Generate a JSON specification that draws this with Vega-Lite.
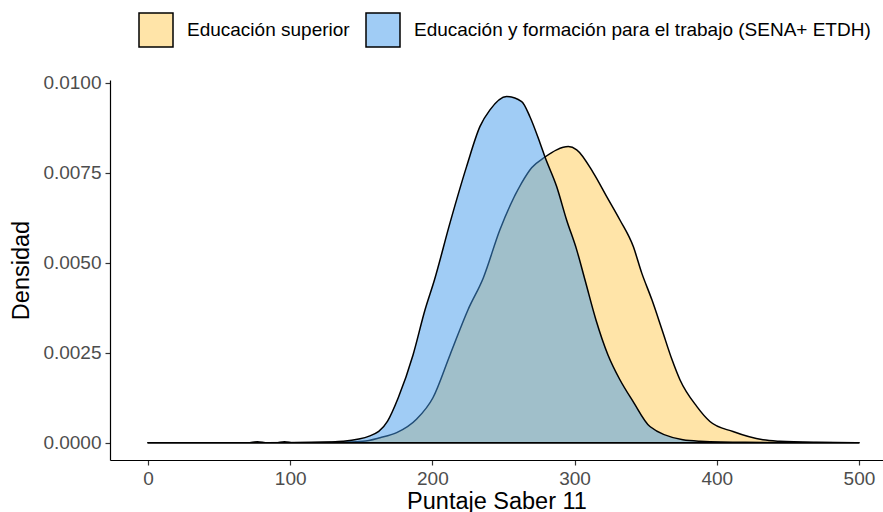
{
  "$schema": "https://vega.github.io/schema/vega-lite/v6.json",
  "width": 773,
  "height": 380,
  "autosize": {"type": "none"},
  "padding": {"left": 110, "top": 80, "right": 0, "bottom": 52},
  "background": "white",
  "config": {
    "view": {"stroke": null},
    "font": "Liberation Sans"
  },
  "data": {
    "values": [
      {"g": "Educación superior", "x": 0, "y": 0},
      {"g": "Educación superior", "x": 70, "y": 0},
      {"g": "Educación superior", "x": 77, "y": 0.00003},
      {"g": "Educación superior", "x": 84, "y": 0},
      {"g": "Educación superior", "x": 130, "y": 0.00001},
      {"g": "Educación superior", "x": 151.2, "y": 0.00004},
      {"g": "Educación superior", "x": 163.2, "y": 0.00014},
      {"g": "Educación superior", "x": 174.9, "y": 0.00028},
      {"g": "Educación superior", "x": 189.0, "y": 0.00066},
      {"g": "Educación superior", "x": 200.4, "y": 0.00125},
      {"g": "Educación superior", "x": 212.4, "y": 0.00244},
      {"g": "Educación superior", "x": 225.0, "y": 0.00369},
      {"g": "Educación superior", "x": 235.8, "y": 0.00458},
      {"g": "Educación superior", "x": 247.5, "y": 0.00592},
      {"g": "Educación superior", "x": 262.8, "y": 0.00722},
      {"g": "Educación superior", "x": 269.8, "y": 0.00764},
      {"g": "Educación superior", "x": 279.2, "y": 0.00794},
      {"g": "Educación superior", "x": 287.4, "y": 0.00814},
      {"g": "Educación superior", "x": 295.6, "y": 0.00823},
      {"g": "Educación superior", "x": 301.5, "y": 0.00814},
      {"g": "Educación superior", "x": 313.2, "y": 0.00750},
      {"g": "Educación superior", "x": 322.6, "y": 0.00684},
      {"g": "Educación superior", "x": 331.9, "y": 0.00619},
      {"g": "Educación superior", "x": 341.3, "y": 0.00545},
      {"g": "Educación superior", "x": 347.2, "y": 0.00472},
      {"g": "Educación superior", "x": 354.4, "y": 0.00397},
      {"g": "Educación superior", "x": 361.5, "y": 0.00314},
      {"g": "Educación superior", "x": 368.5, "y": 0.00231},
      {"g": "Educación superior", "x": 374.1, "y": 0.00175},
      {"g": "Educación superior", "x": 385.9, "y": 0.00101},
      {"g": "Educación superior", "x": 395.2, "y": 0.00059},
      {"g": "Educación superior", "x": 411.4, "y": 0.00031},
      {"g": "Educación superior", "x": 432.5, "y": 0.00008},
      {"g": "Educación superior", "x": 444.4, "y": 0.00004},
      {"g": "Educación superior", "x": 470, "y": 0.00001},
      {"g": "Educación superior", "x": 500, "y": 0},
      {"g": "Educación y formación para el trabajo (SENA+ ETDH)", "x": 0, "y": 0},
      {"g": "Educación y formación para el trabajo (SENA+ ETDH)", "x": 90, "y": 0},
      {"g": "Educación y formación para el trabajo (SENA+ ETDH)", "x": 96, "y": 0.00003},
      {"g": "Educación y formación para el trabajo (SENA+ ETDH)", "x": 102, "y": 0},
      {"g": "Educación y formación para el trabajo (SENA+ ETDH)", "x": 128, "y": 0.00002},
      {"g": "Educación y formación para el trabajo (SENA+ ETDH)", "x": 137.1, "y": 0.00004},
      {"g": "Educación y formación para el trabajo (SENA+ ETDH)", "x": 156.1, "y": 0.00019},
      {"g": "Educación y formación para el trabajo (SENA+ ETDH)", "x": 168.5, "y": 0.00060},
      {"g": "Educación y formación para el trabajo (SENA+ ETDH)", "x": 176.0, "y": 0.00125},
      {"g": "Educación y formación para el trabajo (SENA+ ETDH)", "x": 186.4, "y": 0.00244},
      {"g": "Educación y formación para el trabajo (SENA+ ETDH)", "x": 194.8, "y": 0.00369},
      {"g": "Educación y formación para el trabajo (SENA+ ETDH)", "x": 201.5, "y": 0.00453},
      {"g": "Educación y formación para el trabajo (SENA+ ETDH)", "x": 212.4, "y": 0.00611},
      {"g": "Educación y formación para el trabajo (SENA+ ETDH)", "x": 224.1, "y": 0.00768},
      {"g": "Educación y formación para el trabajo (SENA+ ETDH)", "x": 233.5, "y": 0.00879},
      {"g": "Educación y formación para el trabajo (SENA+ ETDH)", "x": 240.5, "y": 0.00925},
      {"g": "Educación y formación para el trabajo (SENA+ ETDH)", "x": 252.2, "y": 0.00962},
      {"g": "Educación y formación para el trabajo (SENA+ ETDH)", "x": 262.8, "y": 0.00948},
      {"g": "Educación y formación para el trabajo (SENA+ ETDH)", "x": 268.6, "y": 0.00906},
      {"g": "Educación y formación para el trabajo (SENA+ ETDH)", "x": 275.7, "y": 0.00833},
      {"g": "Educación y formación para el trabajo (SENA+ ETDH)", "x": 279.2, "y": 0.00794},
      {"g": "Educación y formación para el trabajo (SENA+ ETDH)", "x": 287.4, "y": 0.00712},
      {"g": "Educación y formación para el trabajo (SENA+ ETDH)", "x": 294.4, "y": 0.00619},
      {"g": "Educación y formación para el trabajo (SENA+ ETDH)", "x": 301.5, "y": 0.00536},
      {"g": "Educación y formación para el trabajo (SENA+ ETDH)", "x": 307.3, "y": 0.00453},
      {"g": "Educación y formación para el trabajo (SENA+ ETDH)", "x": 315.0, "y": 0.00342},
      {"g": "Educación y formación para el trabajo (SENA+ ETDH)", "x": 323.5, "y": 0.00244},
      {"g": "Educación y formación para el trabajo (SENA+ ETDH)", "x": 331.9, "y": 0.00175},
      {"g": "Educación y formación para el trabajo (SENA+ ETDH)", "x": 341.1, "y": 0.00115},
      {"g": "Educación y formación para el trabajo (SENA+ ETDH)", "x": 353.0, "y": 0.00045},
      {"g": "Educación y formación para el trabajo (SENA+ ETDH)", "x": 376.2, "y": 0.00008},
      {"g": "Educación y formación para el trabajo (SENA+ ETDH)", "x": 388.2, "y": 0.00004},
      {"g": "Educación y formación para el trabajo (SENA+ ETDH)", "x": 420, "y": 0.00001},
      {"g": "Educación y formación para el trabajo (SENA+ ETDH)", "x": 500, "y": 0}
    ]
  },
  "mark": {
    "type": "area",
    "interpolate": "monotone",
    "stroke": "black",
    "strokeWidth": 1.5,
    "strokeJoin": "round"
  },
  "encoding": {
    "x": {
      "field": "x",
      "type": "quantitative",
      "scale": {"domain": [-26.7, 516.9], "nice": false, "zero": false},
      "axis": {
        "title": "Puntaje Saber 11",
        "values": [0, 100, 200, 300, 400, 500],
        "grid": false,
        "domainColor": "black",
        "domainWidth": 1.2,
        "tickColor": "#333333",
        "tickSize": 5,
        "tickWidth": 1.2,
        "labelColor": "#4d4d4d",
        "labelFontSize": 19,
        "labelFont": "Liberation Sans",
        "labelPadding": 4,
        "titleFont": "Liberation Sans",
        "titleFontSize": 23.5,
        "titleFontWeight": "normal",
        "titleColor": "black",
        "titlePadding": 1
      }
    },
    "y": {
      "field": "y",
      "type": "quantitative",
      "stack": null,
      "scale": {"domain": [-0.00048, 0.01008], "nice": false, "zero": false},
      "axis": {
        "title": "Densidad",
        "values": [0, 0.0025, 0.005, 0.0075, 0.01],
        "format": ".4f",
        "grid": false,
        "domainColor": "black",
        "domainWidth": 1.2,
        "tickColor": "#333333",
        "tickSize": 5,
        "tickWidth": 1.2,
        "labelColor": "#4d4d4d",
        "labelFontSize": 19,
        "labelFont": "Liberation Sans",
        "labelPadding": 4,
        "titleFont": "Liberation Sans",
        "titleFontSize": 23.5,
        "titleFontWeight": "normal",
        "titleColor": "black",
        "titlePadding": 9
      }
    },
    "color": {
      "field": "g",
      "type": "nominal",
      "scale": {
        "domain": ["Educación superior", "Educación y formación para el trabajo (SENA+ ETDH)"],
        "range": ["rgba(255,201,81,0.5)", "rgba(65,153,235,0.5)"]
      },
      "legend": {
        "title": null,
        "orient": "none",
        "legendX": 28,
        "legendY": -68,
        "direction": "horizontal",
        "symbolType": "square",
        "symbolSize": 1156,
        "symbolStrokeColor": "black",
        "symbolStrokeWidth": 1.5,
        "labelFont": "Liberation Sans",
        "labelFontSize": 19,
        "labelColor": "black",
        "labelOffset": 13,
        "columnPadding": 13,
        "labelLimit": 600
      }
    }
  }
}
